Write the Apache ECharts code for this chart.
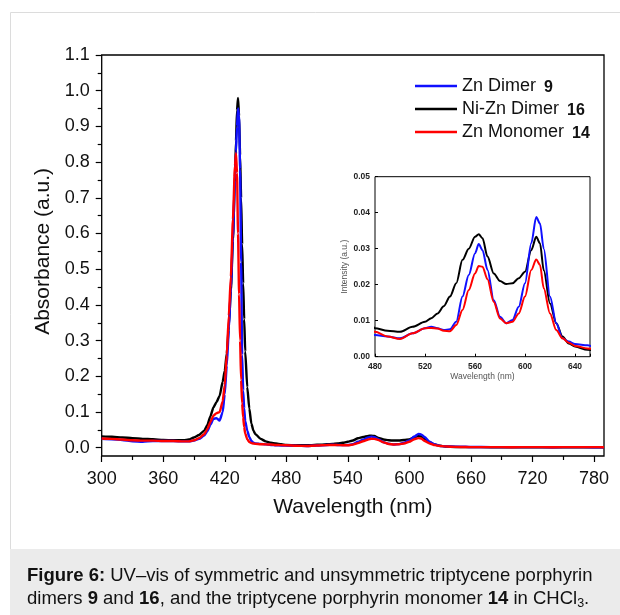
<!DOCTYPE html>
<html><head><meta charset="utf-8">
<script src="https://cdn.jsdelivr.net/npm/echarts@6/dist/echarts.min.js"></script>
<style>html,body{margin:0;padding:0;background:#fff}#c{width:620px;height:615px}</style>
</head><body><div id="c"></div>
<script>
// ---- data ----
const wavelengths = [300,310,320,330,340,350,360,370,380,385,390,395,400,403,406,409,412,415,418,420,422,424,426,428,430,431,432,433,434,435,436,437,438,439,440,442,444,446,448,450,455,460,465,470,475,480,490,500,510,520,525,530,535,540,545,550,555,560,563,566,570,575,580,585,590,595,600,605,609,612,615,620,625,630,635,640,650,660,680,700,720,740,760,780,790];

const niZnDimer16 = [0.032,0.031,0.029,0.027,0.025,0.024,0.022,0.021,0.021,
  0.023,0.029,0.036,0.048,
  0.063,0.088,0.113,0.128,0.145,0.185,
  0.215,0.264,0.34,0.44,0.58,
  0.76,0.86,0.945,0.98,0.93,0.82,0.70,0.57,0.46,0.36,0.27,
  0.17,0.11,0.068,0.048,0.038,
  0.025,0.018,0.014,0.012,0.010,0.0079,
  0.0072,0.0069,0.0083,0.0097,
  0.0107,0.012,0.014,0.0167,0.0204,0.0269,0.030,0.0333,
  0.034,0.0329,0.0278,0.0231,0.021,0.0202,0.0204,0.0218,0.0236,
  0.0296,0.0333,0.0315,0.024,0.0148,0.0093,0.0056,0.0037,0.0028,
  0.0019,0.0018,0.0017,0.0016,0.0017,0.0016,0.0016,0.0017,0.0016];

const znDimer9 = [0.025,0.024,0.022,0.018,0.017,0.019,0.019,0.019,0.018,
  0.018,0.020,0.025,0.034,
  0.046,0.064,0.081,0.083,0.076,0.10,
  0.15,0.23,0.33,0.45,0.59,
  0.75,0.83,0.90,0.95,0.93,0.78,0.52,0.26,0.16,0.11,0.075,
  0.048,0.03,0.019,0.014,0.012,
  0.011,0.0095,0.008,0.007,0.0065,0.006,
  0.0056,0.0051,0.0065,0.0079,
  0.0083,0.0079,0.0074,0.0076,0.0097,0.0167,0.0227,0.0287,
  0.0313,0.0296,0.0241,0.0157,0.0111,0.0093,0.0102,0.0139,0.0204,
  0.0315,0.0388,0.037,0.030,0.0167,0.0093,0.0051,0.0042,0.0035,
  0.0032,0.0022,0.0019,0.0018,0.0018,0.0017,0.0018,0.0017,0.0017];

const znMonomer14 = [0.026,0.025,0.023,0.021,0.020,0.020,0.019,0.019,0.018,
  0.018,0.021,0.027,0.038,
  0.052,0.072,0.090,0.097,0.100,0.13,
  0.175,0.26,0.37,0.48,0.64,
  0.79,0.825,0.77,0.60,0.43,0.30,0.19,0.124,0.085,0.058,0.04,
  0.024,0.016,0.013,0.012,0.011,
  0.010,0.0095,0.009,0.008,0.0075,0.0069,
  0.0056,0.0049,0.0065,0.0079,
  0.008,0.0078,0.0072,0.0071,0.0088,0.013,0.0185,0.0231,
  0.0252,0.025,0.0215,0.0152,0.0106,0.0093,0.0097,0.012,0.0167,
  0.0241,0.027,0.0255,0.019,0.012,0.0074,0.0051,0.0039,0.003,
  0.0023,0.0019,0.0018,0.0017,0.0018,0.0017,0.0018,0.0018,0.0017];

const seriesNames = ['Zn Dimer 9', 'Ni-Zn Dimer 16', 'Zn Monomer 14'];
const seriesColors = {'Zn Dimer 9': '#1010ff', 'Ni-Zn Dimer 16': '#000000', 'Zn Monomer 14': '#ff0000'};
const seriesValues = {'Zn Dimer 9': znDimer9, 'Ni-Zn Dimer 16': niZnDimer16, 'Zn Monomer 14': znMonomer14};
const drawOrder = ['Ni-Zn Dimer 16', 'Zn Dimer 9', 'Zn Monomer 14'];

const mainXTickStep = 60, mainYTickStep = 0.1, insetXTickStep = 40, insetYTickStep = 0.01;

// ---- chart ----
const FONT = '"Liberation Sans", Arial, Helvetica, sans-serif';
function pairs(vals) { return wavelengths.map((w, i) => [w, vals[i]]); }

const chart = echarts.init(document.getElementById('c'), null, {renderer: 'canvas'});

const series = [];
drawOrder.forEach(n => series.push({
  name: n, type: 'line', xAxisIndex: 0, yAxisIndex: 0, data: pairs(seriesValues[n]),
  showSymbol: false, smooth: 0.2, smoothMonotone: 'x', z: 3,
  lineStyle: {color: seriesColors[n], width: 2.4}, itemStyle: {color: seriesColors[n]}
}));
drawOrder.forEach(n => series.push({
  name: n, type: 'line', xAxisIndex: 3, yAxisIndex: 3, data: pairs(seriesValues[n]),
  showSymbol: false, smooth: 0.3, smoothMonotone: 'x', clip: true, z: 5,
  lineStyle: {color: seriesColors[n], width: 2}, itemStyle: {color: seriesColors[n]}
}));

const tickLine = {color: '#000', width: 1.2};

const option = {
  animation: false,
  textStyle: {fontFamily: FONT},
  graphic: [
    {type: 'rect', z: -10, shape: {x: 10.5, y: 12.5, width: 640, height: 640}, style: {fill: '#fff', stroke: '#dcdcdc', lineWidth: 1}},
    {type: 'rect', z: -9, shape: {x: 10, y: 549, width: 620, height: 70}, style: {fill: '#ebebeb'}},
    {type: 'text', z: 10, left: 27, top: 564,
      style: {
        text: '{b|Figure 6:} UV–vis of symmetric and unsymmetric triptycene porphyrin\ndimers {b|9} and {b|16}, and the triptycene porphyrin monomer {b|14} in CHCl{s|3}.',
        fontFamily: FONT, fontSize: 18.5, fill: '#111', lineHeight: 23,
        rich: {
          b: {fontFamily: FONT, fontSize: 18.5, fontWeight: 'bold', fill: '#111', lineHeight: 23},
          s: {fontFamily: FONT, fontSize: 12.5, fill: '#111', lineHeight: 23, verticalAlign: 'bottom', padding: [0, 0, 0, 0]}
        }
      }}
  ],
  legend: {
    data: seriesNames, orient: 'vertical', left: 415, top: 76, padding: 0,
    icon: 'rect', itemWidth: 42, itemHeight: 2.5, itemGap: 3, selectedMode: false,
    textStyle: {fontSize: 18, color: '#111', fontFamily: FONT,
      rich: {
        n: {fontSize: 18, color: '#111', fontFamily: FONT, lineHeight: 20},
        b: {fontSize: 16, fontWeight: 'bold', color: '#111', fontFamily: FONT, padding: [4, 0, 0, 8], lineHeight: 16}
      }},
    formatter: name => { const i = name.lastIndexOf(' '); return '{n|' + name.slice(0, i) + '}{b|' + name.slice(i + 1) + '}'; }
  },
  grid: [
    {left: 101.7, top: 55, right: 16, bottom: 159, show: true, borderColor: '#000', borderWidth: 1.3, backgroundColor: 'rgba(0,0,0,0)'},
    {left: 101.7, top: 55, right: 26, bottom: 159},
    {left: 101.7, top: 55, right: 16, bottom: 167.3},
    {left: 375, top: 176.7, right: 30, bottom: 258.3, show: true, borderColor: '#000', borderWidth: 1, backgroundColor: '#fff', z: 4}
  ],
  xAxis: [
    {gridIndex: 0, type: 'value', min: 300, max: 790, axisLine: {show: false}, axisTick: {show: false}, axisLabel: {show: false}, splitLine: {show: false},
      name: 'Wavelength (nm)', nameLocation: 'middle', nameGap: 41, nameTextStyle: {fontSize: 21, color: '#111'}},
    {gridIndex: 1, type: 'value', min: 300, max: 780, interval: mainXTickStep,
      axisLine: {show: false}, splitLine: {show: false},
      axisTick: {show: true, inside: false, length: 6, lineStyle: tickLine},
      minorTick: {show: true, splitNumber: 2, length: 4, lineStyle: tickLine},
      axisLabel: {fontSize: 18, margin: 14, color: '#111'}},
    {gridIndex: 2, type: 'value', min: 300, max: 790, show: false},
    {gridIndex: 3, type: 'value', min: 480, max: 652, interval: insetXTickStep, z: 6,
      axisLine: {show: false}, splitLine: {show: false},
      axisTick: {show: true, inside: true, length: 3, lineStyle: {color: '#000', width: 1}},
      axisLabel: {fontSize: 8.5, fontWeight: 'bold', margin: 5, color: '#222', formatter: v => (v % insetXTickStep === 0 ? String(v) : '')},
      name: 'Wavelength (nm)', nameLocation: 'middle', nameGap: 15, nameTextStyle: {fontSize: 8.5, color: '#555'}}
  ],
  yAxis: [
    {gridIndex: 0, type: 'value', min: -0.023, max: 1.1, show: false},
    {gridIndex: 1, type: 'value', min: 0, max: 1, show: false},
    {gridIndex: 2, type: 'value', min: 0, max: 1.1, interval: mainYTickStep,
      axisLine: {show: false}, splitLine: {show: false},
      axisTick: {show: true, inside: false, length: 6, lineStyle: tickLine},
      minorTick: {show: true, splitNumber: 2, length: 4, lineStyle: tickLine},
      axisLabel: {fontSize: 18, margin: 12, color: '#111', formatter: v => v.toFixed(1)},
      name: 'Absorbance (a.u.)', nameLocation: 'middle', nameGap: 47, nameTextStyle: {fontSize: 21, color: '#111'}},
    {gridIndex: 3, type: 'value', min: 0, max: 0.05, interval: insetYTickStep, z: 6,
      axisLine: {show: false}, splitLine: {show: false},
      axisTick: {show: true, inside: true, length: 3, lineStyle: {color: '#000', width: 1}},
      axisLabel: {fontSize: 8.5, fontWeight: 'bold', margin: 5, color: '#222', formatter: v => v.toFixed(2)},
      name: 'Intensity (a.u.)', nameLocation: 'middle', nameGap: 26, nameTextStyle: {fontSize: 8.5, color: '#555'}}
  ],
  series: series
};
chart.setOption(option);
</script>
</body></html>
